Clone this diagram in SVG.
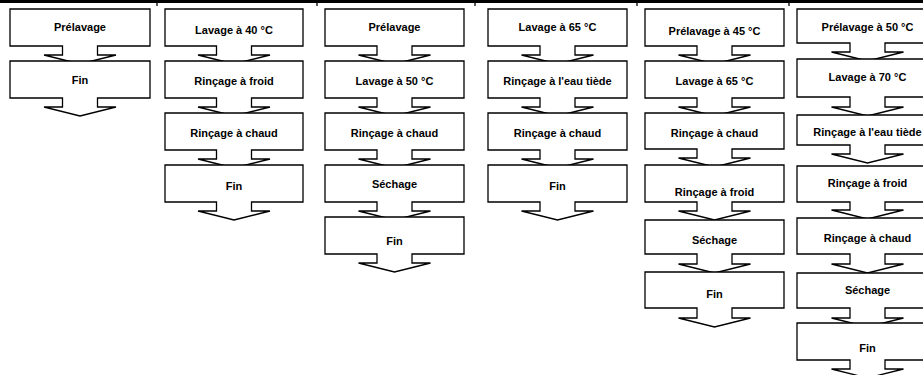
<svg xmlns="http://www.w3.org/2000/svg" width="923" height="375" viewBox="0 0 923 375">
<style>
.s{fill:#fff;stroke:#000;stroke-width:1.3;stroke-linejoin:miter}
.t{font-family:"Liberation Sans",Arial,sans-serif;font-weight:bold;font-size:11px;fill:#000;text-anchor:middle}
.b{stroke:#000;fill:none}
</style>
<g id="header">
<line class="b" x1="0" y1="1.5" x2="923" y2="1.5" stroke-width="3"/>
<line class="b" x1="157" y1="0" x2="157" y2="6" stroke-width="1.3"/>
<line class="b" x1="317" y1="0" x2="317" y2="6" stroke-width="1.3"/>
<line class="b" x1="475" y1="0" x2="475" y2="6" stroke-width="1.3"/>
<line class="b" x1="637" y1="0" x2="637" y2="6" stroke-width="1.3"/>
<line class="b" x1="789" y1="0" x2="789" y2="6" stroke-width="1.3"/>
</g>
<g id="col1">
<g id="c1n1"><path class="s" d="M10,9H150V46H97.5V55H116L80,64L44,55H62.5V46H10Z"/><text class="t" x="80" y="31">Prélavage</text></g>
<g id="c1n2"><path class="s" d="M10,61H150V98H97.5V107H116L80,116L44,107H62.5V98H10Z"/><text class="t" x="80" y="84">Fin</text></g>
</g>
<g id="col2">
<g id="c2n1"><path class="s" d="M165,9H303V46H251.5V55H270L234,64L198,55H216.5V46H165Z"/><text class="t" x="234" y="34">Lavage à 40 °C</text></g>
<g id="c2n2"><path class="s" d="M165,61H303V98H251.5V107H270L234,116L198,107H216.5V98H165Z"/><text class="t" x="234" y="85">Rinçage à froid</text></g>
<g id="c2n3"><path class="s" d="M165,113H303V150H251.5V159H270L234,168L198,159H216.5V150H165Z"/><text class="t" x="234" y="137">Rinçage à chaud</text></g>
<g id="c2n4"><path class="s" d="M165,165H303V202H251.5V211H270L234,220L198,211H216.5V202H165Z"/><text class="t" x="234" y="190">Fin</text></g>
</g>
<g id="col3">
<g id="c3n1"><path class="s" d="M325,9H464V46H412V55H430.5L394.5,64L358.5,55H377V46H325Z"/><text class="t" x="394.5" y="31">Prélavage</text></g>
<g id="c3n2"><path class="s" d="M325,61H464V98H412V107H430.5L394.5,116L358.5,107H377V98H325Z"/><text class="t" x="394.5" y="85">Lavage à 50 °C</text></g>
<g id="c3n3"><path class="s" d="M325,113H464V150H412V159H430.5L394.5,168L358.5,159H377V150H325Z"/><text class="t" x="394.5" y="137">Rinçage à chaud</text></g>
<g id="c3n4"><path class="s" d="M325,165H464V202H412V211H430.5L394.5,220L358.5,211H377V202H325Z"/><text class="t" x="394.5" y="188">Séchage</text></g>
<g id="c3n5"><path class="s" d="M325,217H464V254H412V263H430.5L394.5,272L358.5,263H377V254H325Z"/><text class="t" x="394.5" y="245">Fin</text></g>
</g>
<g id="col4">
<g id="c4n1"><path class="s" d="M488,9H627V46H575V55H593.5L557.5,64L521.5,55H540V46H488Z"/><text class="t" x="557.5" y="31">Lavage à 65 °C</text></g>
<g id="c4n2"><path class="s" d="M488,61H627V98H575V107H593.5L557.5,116L521.5,107H540V98H488Z"/><text class="t" x="557.5" y="85">Rinçage à l'eau tiède</text></g>
<g id="c4n3"><path class="s" d="M488,113H627V150H575V159H593.5L557.5,168L521.5,159H540V150H488Z"/><text class="t" x="557.5" y="137">Rinçage à chaud</text></g>
<g id="c4n4"><path class="s" d="M488,165H627V202H575V211H593.5L557.5,220L521.5,211H540V202H488Z"/><text class="t" x="557.5" y="190">Fin</text></g>
</g>
<g id="col5">
<g id="c5n1"><path class="s" d="M645,9H784V46H732V55H750.5L714.5,64L678.5,55H697V46H645Z"/><text class="t" x="714.5" y="35">Prélavage à 45 °C</text></g>
<g id="c5n2"><path class="s" d="M645,61H784V98H732V107H750.5L714.5,116L678.5,107H697V98H645Z"/><text class="t" x="714.5" y="85">Lavage à 65 °C</text></g>
<g id="c5n3"><path class="s" d="M645,113H784V149H732V158H750.5L714.5,167L678.5,158H697V149H645Z"/><text class="t" x="714.5" y="137">Rinçage à chaud</text></g>
<g id="c5n4"><path class="s" d="M645,165H784V202H732V211H750.5L714.5,220L678.5,211H697V202H645Z"/><text class="t" x="714.5" y="196">Rinçage à froid</text></g>
<g id="c5n5"><path class="s" d="M645,220H784V254H732V264H750.5L714.5,273L678.5,264H697V254H645Z"/><text class="t" x="714.5" y="244">Séchage</text></g>
<g id="c5n6"><path class="s" d="M645,272H784V308H732V318H750.5L714.5,327L678.5,318H697V308H645Z"/><text class="t" x="714.5" y="298">Fin</text></g>
</g>
<g id="col6">
<g id="c6n1"><path class="s" d="M797,9H938V43H885V52H903.5L867.5,61L831.5,52H850V43H797Z"/><text class="t" x="867.5" y="31">Prélavage à 50 °C</text></g>
<g id="c6n2"><path class="s" d="M797,59H938V97H885V107H903.5L867.5,116L831.5,107H850V97H797Z"/><text class="t" x="867.5" y="81">Lavage à 70 °C</text></g>
<g id="c6n3"><path class="s" d="M797,115H938V145H885V154H903.5L867.5,163L831.5,154H850V145H797Z"/><text class="t" x="867.5" y="136">Rinçage à l'eau tiède</text></g>
<g id="c6n4"><path class="s" d="M797,166H938V202H885V210H903.5L867.5,219L831.5,210H850V202H797Z"/><text class="t" x="867.5" y="187">Rinçage à froid</text></g>
<g id="c6n5"><path class="s" d="M797,218H938V254H885V264H903.5L867.5,273L831.5,264H850V254H797Z"/><text class="t" x="867.5" y="242">Rinçage à chaud</text></g>
<g id="c6n6"><path class="s" d="M797,273H938V308H885V318H903.5L867.5,327L831.5,318H850V308H797Z"/><text class="t" x="867.5" y="294">Séchage</text></g>
<g id="c6n7"><path class="s" d="M797,323H938V360H885V369H903.5L867.5,378L831.5,369H850V360H797Z"/><text class="t" x="867.5" y="352">Fin</text></g>
</g>
<g id="connectors"></g>
</svg>
